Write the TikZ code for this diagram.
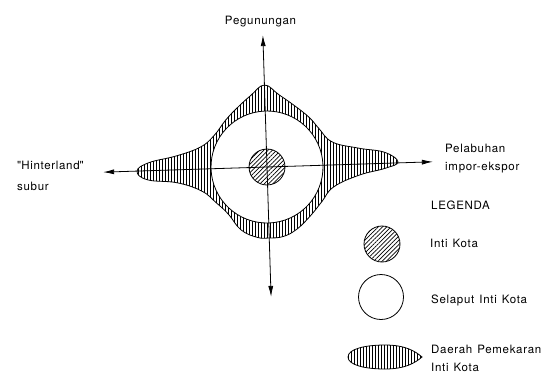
\documentclass[tikz,border=0pt]{standalone}
\usepackage{fontspec}
\setmainfont{TeX Gyre Heros}[LetterSpace=6,WordSpace=1.3]
\usetikzlibrary{arrows.meta,patterns.meta,positioning}

\tikzset{
  garis/.style={line width=0.8pt},
  sumbu/.style={line width=0.8pt, -{Latex[length=11pt,width=5pt]}},
  arsir/.style={pattern={Lines[angle=90,distance=3pt,line width=0.9pt]}},
  miring/.style={pattern={Lines[angle=45,distance=3pt,line width=0.7pt]}},
  teks/.style={inner sep=0pt, font=\fontsize{11.5}{17.5}\selectfont},
}

\begin{document}
\begin{tikzpicture}[x=1pt,y=1pt]
\useasboundingbox (0,0) rectangle (559,-376);

\begin{scope}[shift={(267,-167)}, rotate=1.8]
  % daerah pemekaran inti kota
  \draw[garis, arsir] plot[smooth cycle, tension=0.7] coordinates {
    (131,1) (118,11) (92,16) (66,23) (53,37) (44,48) (30,60) (14,72)
    (0,82) (-14,72) (-28,60) (-40,48) (-52,33) (-66,22) (-90,14)
    (-118,8) (-130,0) (-120,-9) (-90,-13) (-66,-22) (-52,-34)
    (-40,-46) (-28,-62) (-12,-70) (0,-71) (14,-70) (28,-63) (42,-50)
    (54,-36) (66,-22) (92,-11) (118,-5)};
  % selaput inti kota
  \draw[garis, fill=white] (0,0) circle (56pt);
  % inti kota
  \draw[garis, miring] (0,0) circle (18pt);

  \coordinate (pusat) at (0,0);
  \coordinate (utara) at (0,132);
  \coordinate (selatan) at (0,-130);
  \coordinate (barat) at (-164,0);
  \coordinate (timur) at (166,0);

  \draw[sumbu] (pusat) -- (utara);
  \draw[sumbu] (pusat) -- (selatan);
  \draw[sumbu] (pusat) -- (barat);
  \draw[sumbu] (pusat) -- (timur);
\end{scope}

\node[teks, anchor=base] (gunung) at (260.5,-24) {Pegunungan};
\node[teks, anchor=base west, align=left] (pelabuhan) at (445,-170) {Pelabuhan\\impor-ekspor};
\node[teks, anchor=base west, align=left] (hinterland) at (17,-190) {\textquotedbl Hinterland\textquotedbl\\[3pt]subur};

% legenda
\node[teks, anchor=base west] (legenda) at (431,-209) {LEGENDA};

\node[garis, draw, circle, minimum size=36pt, inner sep=0pt, miring] (simbolInti) at (382,-244) {};
\node[teks, anchor=base west] (teksInti) at (430,-247) {Inti Kota};

\node[garis, draw, circle, minimum size=45pt, inner sep=0pt] (simbolSelaput) at (381,-297) {};
\node[teks, anchor=base west] (teksSelaput) at (431,-303) {Selaput Inti Kota};

\begin{scope}[shift={(385,-357)}]
  \draw[garis, arsir] (-37,0) .. controls (-37,8) and (-20,12) .. (0,12)
    .. controls (20,12) and (30,6) .. (37,0)
    .. controls (30,-6) and (20,-12) .. (0,-12)
    .. controls (-20,-12) and (-37,-8) .. (-37,0) -- cycle;
\end{scope}
\node[teks, anchor=base west, align=left] (teksDaerah) at (431,-371) {Daerah Pemekaran\\Inti Kota};
\end{tikzpicture}
\end{document}
